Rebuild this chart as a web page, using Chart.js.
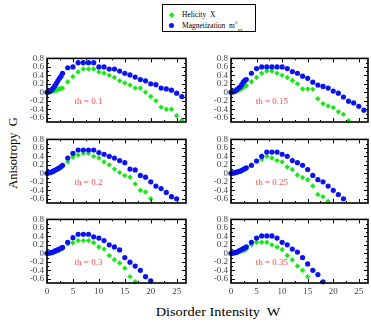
<!DOCTYPE html>
<html><head><meta charset="utf-8">
<script src="https://cdn.jsdelivr.net/npm/chart.js@4.4.1/dist/chart.umd.min.js"></script>
<style>
html,body{margin:0;padding:0;background:#fff;}
#wrap{position:relative;width:371px;height:323px;overflow:hidden;background:#fff;font-family:"Liberation Serif","DejaVu Serif",serif;}
canvas{position:absolute;}
#legend{position:absolute;left:162px;top:4px;width:92px;height:26px;border:1px solid #000;background:#fff;font-size:7.5px;color:#000;}
.li{position:absolute;left:0;white-space:nowrap;}
.mk{position:absolute;}
#ytitle{position:absolute;left:13px;top:153px;transform:translate(-50%,-50%) rotate(-90deg);font-size:12.5px;white-space:nowrap;}
#xtitle{position:absolute;left:218px;top:312px;transform:translate(-50%,-50%) scaleX(1.15);font-size:12.5px;white-space:nowrap;}
</style></head>
<body><div id="wrap">
<div id="legend">
  <div class="mk" style="left:7px;top:8px;width:3.5px;height:3.5px;background:rgb(20,235,20);transform:rotate(45deg);"></div>
  <div class="li" style="left:19px;top:5px;">Helicity&nbsp; X</div>
  <div class="mk" style="left:6px;top:18px;width:5px;height:5px;border-radius:50%;background:rgb(10,20,240);"></div>
  <div class="li" style="left:19px;top:15px;">Magnetization&nbsp; m<sup style="font-size:5px;vertical-align:4px;">2</sup><sub style="font-size:5px;vertical-align:-3px;">xy</sub></div>
</div>
<div id="ytitle">Anisotropy&nbsp; G</div>
<div id="xtitle">Disorder Intensity&nbsp; W</div>
</div>
<script>
// ---- data ----
const X = [0,0.3,0.6,0.9,1.2,1.5,1.8,2.1,2.4,2.7,3,4,5,6,7,8,9,10,11,12,13,14,15,16,17,18,19,20,21,22,23,24,25,26];
const thLabels = ['th = 0.1','th = 0.15','th = 0.2','th = 0.25','th = 0.3','th = 0.35'];
const seriesNames = ['Helicity  X','Magnetization  m\u00b2xy'];

const helicity01 = [0,0.005,0.01,0.02,0.03,0.04,0.05,0.07,0.08,0.09, 0.1,0.25,0.37,0.48,0.55,0.55,0.55,0.48,0.45,0.4,0.35,0.27,0.22,0.17,0.1,0.1,0.0,-0.1,-0.2,-0.35,-0.4,-0.4,-0.55,-0.66];
const magnet01   = [0,0.01,0.03,0.06,0.1,0.15,0.21,0.27,0.33,0.38, 0.45,0.58,0.6,0.7,0.7,0.7,0.7,0.6,0.6,0.55,0.55,0.5,0.45,0.41,0.36,0.3,0.27,0.2,0.18,0.1,0.08,0.05,-0.02,-0.1];

const helicity015 = [0,0.005,0.01,0.02,0.03,0.05,0.07,0.09,0.12,0.14, 0.16,0.25,0.35,0.45,0.5,0.5,0.45,0.4,0.35,0.28,0.2,0.08,0.08,0.07,-0.15,-0.27,-0.32,-0.36,-0.46,-0.52,-0.67];
const magnet015   = [0,0.01,0.02,0.04,0.07,0.1,0.13,0.18,0.24,0.28, 0.3,0.45,0.56,0.6,0.6,0.6,0.6,0.6,0.56,0.49,0.45,0.38,0.33,0.24,0.17,0.14,0.1,0.03,-0.02,-0.11,-0.21,-0.25,-0.33,-0.42];

const helicity02 = [0,0.01,0.02,0.03,0.04,0.06,0.08,0.1,0.12,0.14, 0.16,0.27,0.38,0.43,0.47,0.47,0.4,0.36,0.27,0.2,0.1,0.02,-0.05,-0.09,-0.25,-0.4,-0.44,-0.6];
const magnet02   = [0,0.01,0.02,0.03,0.05,0.07,0.09,0.11,0.13,0.16, 0.19,0.36,0.47,0.55,0.55,0.55,0.55,0.49,0.45,0.4,0.36,0.3,0.25,0.1,0.08,-0.05,-0.09,-0.2,-0.3,-0.36,-0.45,-0.55,-0.6];

const helicity025 = [0,0.005,0.01,0.02,0.03,0.04,0.05,0.06,0.08,0.1, 0.11,0.19,0.29,0.33,0.4,0.36,0.3,0.27,0.15,0.09,-0.04,-0.1,-0.15,-0.3,-0.5,-0.55,-0.66];
const magnet025   = [0,0.005,0.01,0.02,0.03,0.04,0.05,0.07,0.09,0.11, 0.13,0.19,0.29,0.4,0.5,0.5,0.5,0.45,0.4,0.3,0.25,0.19,0.09,-0.05,-0.15,-0.2,-0.3,-0.4,-0.5,-0.6];

const helicity03 = [0,0.005,0.01,0.02,0.03,0.04,0.05,0.07,0.08,0.1, 0.12,0.22,0.25,0.3,0.3,0.3,0.25,0.15,0.1,-0.05,-0.15,-0.23,-0.35,-0.55,-0.67];
const magnet03   = [0,0.005,0.01,0.02,0.03,0.05,0.07,0.08,0.1,0.12, 0.14,0.26,0.37,0.45,0.45,0.45,0.39,0.36,0.3,0.2,0.15,0.08,-0.1,-0.21,-0.3,-0.4,-0.55,-0.65];

const helicity035 = [0,0.005,0.01,0.02,0.03,0.04,0.05,0.06,0.07,0.08, 0.1,0.2,0.26,0.26,0.26,0.2,0.15,0.09,-0.05,-0.15,-0.3,-0.4,-0.55];
const magnet035   = [0,0.005,0.01,0.02,0.03,0.05,0.07,0.09,0.11,0.13, 0.15,0.26,0.36,0.41,0.41,0.41,0.36,0.26,0.2,0.1,0.03,-0.1,-0.25,-0.4,-0.5,-0.67];

const helicitySets = [helicity01,helicity015,helicity02,helicity025,helicity03,helicity035];
const magnetSets   = [magnet01,magnet015,magnet02,magnet025,magnet03,magnet035];

const xTicks = [0,5,10,15,20,25];
const xMinor = [2.5,7.5,12.5,17.5,22.5];
const yTicks = [-0.6,-0.4,-0.2,0,0.2,0.4,0.6,0.8];
const yMinor = [-0.5,-0.3,-0.1,0.1,0.3,0.5,0.7];

// ---- layout ----
const colLeft = [15,199], colWidth = [175,172], colPadR = [4,1];
const rowTop = [56,137,217];
const PADT = 6, AREAH = 66, XAXH = 14;

const framePlugin = {
  id:'frame',
  afterDraw(chart, args, opts){
    const {ctx, chartArea:a, scales:{x,y}} = chart;
    ctx.save();
    ctx.strokeStyle='#000'; ctx.lineWidth=1;
    ctx.beginPath();
    const vx=(v,len)=>{const p=Math.round(x.getPixelForValue(v))+0.5; ctx.moveTo(p,a.bottom); ctx.lineTo(p,a.bottom-len); ctx.moveTo(p,a.top); ctx.lineTo(p,a.top+len);};
    const vy=(v,len)=>{const p=Math.round(y.getPixelForValue(v))+0.5; ctx.moveTo(a.left,p); ctx.lineTo(a.left+len,p); ctx.moveTo(a.right,p); ctx.lineTo(a.right-len,p);};
    xTicks.forEach(v=>vx(v,4)); xMinor.forEach(v=>vx(v,2));
    yTicks.forEach(v=>vy(v,4)); yMinor.forEach(v=>vy(v,2));
    ctx.stroke();
    ctx.lineWidth=1.6;
    ctx.strokeRect(a.left,a.top,a.right-a.left,a.bottom-a.top);
    ctx.fillStyle='rgb(255,75,75)';
    ctx.font='9px "Liberation Serif"';
    ctx.textAlign='center'; ctx.textBaseline='middle';
    ctx.fillText(opts.label, x.getPixelForValue(8), y.getPixelForValue(-0.23));
    ctx.restore();
  }
};

const wrap = document.getElementById('wrap');
for(let k=0;k<6;k++){
  const r = Math.floor(k/2), c = k%2;
  const cv = document.createElement('canvas');
  const W = colWidth[c], H = PADT+AREAH+XAXH;
  cv.width=W; cv.height=H;
  cv.style.left=colLeft[c]+'px'; cv.style.top=(rowTop[r]-PADT)+'px';
  cv.style.width=W+'px'; cv.style.height=H+'px';
  wrap.appendChild(cv);
  const mk = arr => X.map((x,i)=>({x, y: arr[i]})).filter(p=>p.y!==undefined && p.y!==null);
  new Chart(cv.getContext('2d'), {
    type:'scatter',
    data:{datasets:[
      {label:seriesNames[0], data:mk(helicitySets[k]), pointStyle:'rectRot', pointRadius:2.7, backgroundColor:'rgb(20,235,20)', borderWidth:0, order:2, clip:false},
      {label:seriesNames[1], data:mk(magnetSets[k]), pointStyle:'circle', pointRadius:2.6, backgroundColor:'rgb(10,20,240)', borderWidth:0, order:1, clip:false}
    ]},
    options:{
      responsive:false, animation:false, devicePixelRatio:1,
      layout:{padding:{top:PADT,right:colPadR[c],left:0,bottom:0}},
      plugins:{legend:{display:false}, tooltip:{enabled:false}, frame:{label:thLabels[k]}},
      elements:{point:{hoverRadius:3}},
      scales:{
        x:{type:'linear', min:0, max:26.8,
          afterBuildTicks:s=>{s.ticks=xTicks.map(v=>({value:v}));},
          afterFit:s=>{s.height=XAXH;},
          grid:{display:false, drawTicks:false}, border:{display:false},
          ticks:{display:r===2, padding:3, maxRotation:0, autoSkip:false, color:'#444', font:{family:'Liberation Serif', size:9}}
        },
        y:{type:'linear', min:-0.7, max:0.8,
          afterBuildTicks:s=>{s.ticks=yTicks.map(v=>({value:v}));},
          afterFit:s=>{s.width=32;},
          grid:{display:false, drawTicks:false}, border:{display:false},
          ticks:{padding:3, autoSkip:false, color:'#444', font:{family:'Liberation Serif', size:9},
            callback:v=> v===0 ? '0' : v.toFixed(1)}
        }
      }
    },
    plugins:[framePlugin]
  });
}
</script>
</body></html>
